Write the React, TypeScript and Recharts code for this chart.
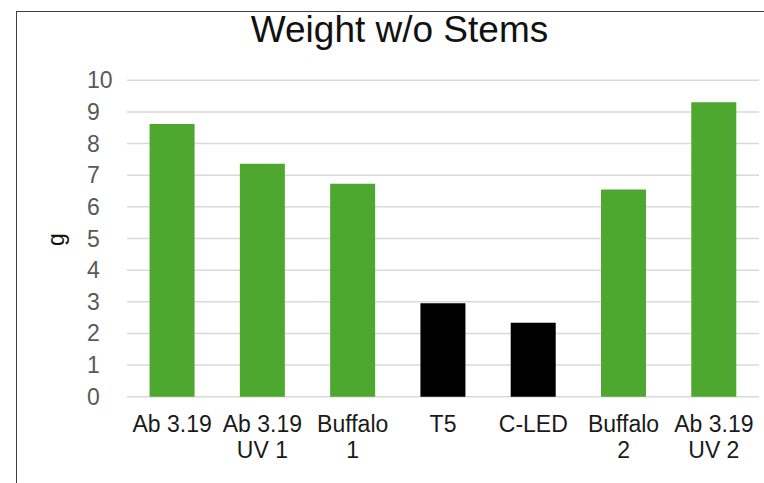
import React from "react";
import { BarChart, Bar, XAxis, YAxis, CartesianGrid, Cell } from "recharts";

const categories = ["Ab 3.19", "Ab 3.19\nUV 1", "Buffalo\n1", "T5", "C-LED", "Buffalo\n2", "Ab 3.19\nUV 2"];
const weights = [8.62, 7.36, 6.73, 2.95, 2.34, 6.55, 9.31];
const barColors = ["#4EA72E", "#4EA72E", "#4EA72E", "#000000", "#000000", "#4EA72E", "#4EA72E"];
const yTicks = [0, 1, 2, 3, 4, 5, 6, 7, 8, 9, 10];
const title = "Weight w/o Stems";
const yLabel = "g";

const data = categories.map((c, i) => ({ name: c, value: weights[i] }));

const FONT = "'Liberation Sans', Arial, sans-serif";

const XTick = (props: any) => {
  const { x, y, payload } = props;
  const lines = String(payload.value).split("\n");
  return (
    <text x={x} y={y} textAnchor="middle" fontFamily={FONT} fontSize={23} fill="#1a1a1a">
      {lines.map((l: string, i: number) => (
        <tspan key={i} x={x} y={y + 27 + i * 26.5}>
          {l}
        </tspan>
      ))}
    </text>
  );
};

const YTick = (props: any) => {
  const { y, payload } = props;
  return (
    <text x={87} y={y} dy={8} textAnchor="start" fontFamily={FONT} fontSize={23} fill="#595959">
      {payload.value}
    </text>
  );
};

export default function App() {
  return (
    <div style={{ position: "fixed", left: 0, top: 0, width: 764, height: 483, background: "#fff", overflow: "hidden" }}>
      <div
        style={{
          position: "absolute",
          left: 16,
          top: 11,
          width: 800,
          height: 500,
          border: "1.5px solid #404040",
          boxSizing: "border-box",
        }}
      />
      <div style={{ position: "absolute", left: 0, top: 0 }}>
        <BarChart
          width={764}
          height={483}
          data={data}
          margin={{ top: 80.3, right: 5, bottom: 56.3, left: 0 }}
          barCategoryGap="25%"
        >
          <text x={399.5} y={42.3} textAnchor="middle" fontFamily={FONT} fontSize={37} fill="#111">
            {title}
          </text>
          <text
            x={64}
            y={239.5}
            transform="rotate(-90, 64, 239.5)"
            textAnchor="middle"
            fontFamily={FONT}
            fontSize={23}
            fill="#111"
          >
            {yLabel}
          </text>
          <CartesianGrid vertical={false} stroke="#d9d9d9" strokeWidth={1.5} />
          <XAxis dataKey="name" height={30} axisLine={false} tickLine={false} tick={<XTick />} interval={0} />
          <YAxis
            width={127}
            domain={[0, 10]}
            ticks={yTicks}
            axisLine={false}
            tickLine={false}
            tick={<YTick />}
            interval={0}
          />
          <Bar dataKey="value" isAnimationActive={false}>
            {data.map((d, i) => (
              <Cell key={i} fill={barColors[i]} />
            ))}
          </Bar>
        </BarChart>
      </div>
    </div>
  );
}
